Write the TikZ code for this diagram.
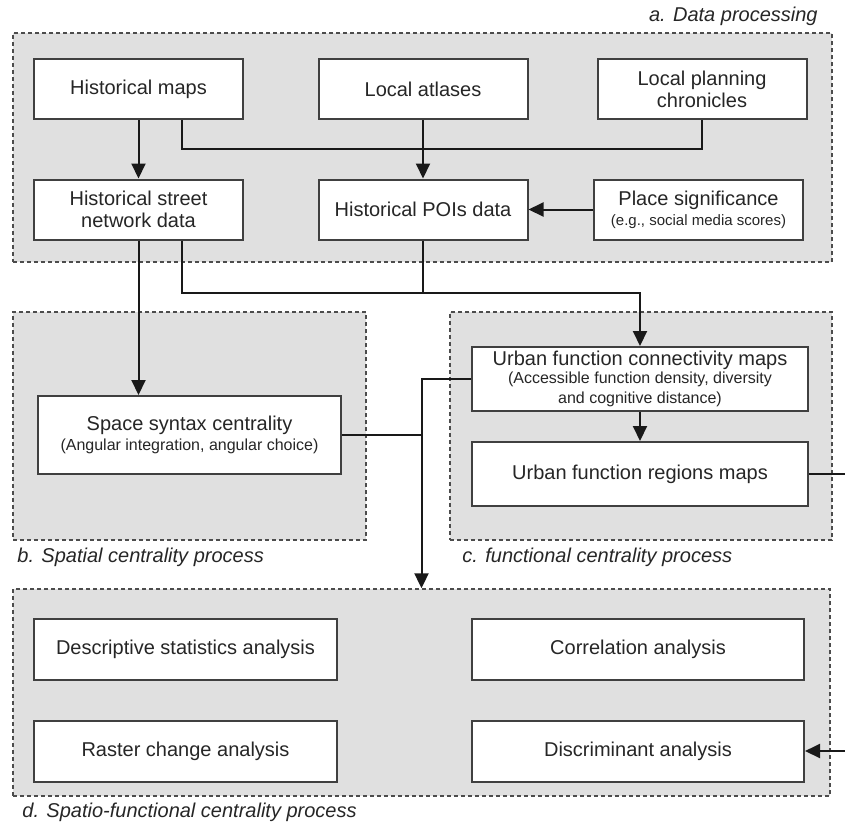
\documentclass[tikz,border=0pt]{standalone}
\usepackage{fontspec}
\setmainfont{Liberation Sans}
\usetikzlibrary{arrows.meta,fit,positioning}
\newcommand{\subtxt}[1]{{\fontsize{8}{9}\selectfont #1}}
\tikzset{
  group/.style={draw=black!70, dash pattern=on 2pt off 1.5pt, line width=0.7pt, fill=black!12, inner sep=0pt},
  grouplabel/.style={font=\itshape\fontsize{10}{12}\selectfont, text=black!85, inner sep=0pt},
  box/.style={draw=black!75, line width=1pt, fill=white, align=center, font=\fontsize{10}{11}\selectfont, text=black!85, inner sep=1pt, minimum width=104.5pt, minimum height=30pt},
  widebox/.style={box, minimum width=151.5pt, minimum height=30.5pt},
  link/.style={line width=1pt, black!90},
  flow/.style={link, -{Triangle[length=7.5pt,width=7pt]}}
}

\begin{document}
\begin{tikzpicture}[x=0.5pt,y=-0.5pt]
  \useasboundingbox (0,0) rectangle (845,825);

  % process groups
  \node[group, fit={(13,33) (832,262)}] (grpA) {};
  \node[group, fit={(13,312) (366,540)}] (grpB) {};
  \node[group, fit={(450,312) (832,540)}] (grpC) {};
  \node[group, fit={(13,589) (830,796)}] (grpD) {};

  \node[grouplabel, anchor=east] (labA) at (818,16) {a. Data processing};
  \node[grouplabel, anchor=west] (labB) at (17,557) {b. Spatial centrality process};
  \node[grouplabel, anchor=west] (labC) at (462,557) {c. functional centrality process};
  \node[grouplabel, anchor=west] (labD) at (22,812) {d. Spatio-functional centrality process};

  % a. data processing
  \node[box] (hmaps) at (138.5,89) {Historical maps};
  \node[box] (atlas) at (423,89) {Local atlases};
  \node[box] (chron) at (702,89) {Local planning\\chronicles};
  \node[box] (street) at (138.5,209.5) {Historical street\\network data};
  \node[box] (pois) at (423,209.5) {Historical POIs data};
  \node[box] (signif) at (698.5,209.5) {Place significance\\[-1pt]{\fontsize{7.5}{9}\selectfont (e.g., social media scores)}};

  % b. and c.
  \node[widebox, minimum height=39pt] (syntax) at (189.5,435)
    {Space syntax centrality\\[-1pt]\subtxt{(Angular integration, angular choice)}};
  \node[box, minimum width=168pt, minimum height=32pt] (conn) at (640,379)
    {Urban function connectivity maps\\[-2pt]\subtxt{(Accessible function density, diversity}\\[-1pt]\subtxt{and cognitive distance)}};
  \node[box, minimum width=168pt, minimum height=32pt] (regions) at (640,474) {Urban function regions maps};

  % d. analyses
  \node[widebox] (descr) at (185.5,649.5) {Descriptive statistics analysis};
  \node[widebox, minimum width=166pt] (corr) at (638,649.5) {Correlation analysis};
  \node[widebox] (raster) at (185.5,751) {Raster change analysis};
  \node[widebox, minimum width=166pt] (discr) at (638,751) {Discriminant analysis};

  \coordinate (jmaps) at (423,149);
  \coordinate (jfunc) at (423,293);
  \coordinate (redge) at (852,474);

  \draw[flow] (hmaps.south) -- (street.north);
  \draw[link] ([xshift=21.5pt]hmaps.south) |- (jmaps) -| (chron.south);
  \draw[flow] (atlas.south) -- (pois.north);
  \draw[flow] (signif.west) -- (pois.east);

  \draw[flow] (street.south) -- (street.south |- syntax.north);
  \draw[flow] ([xshift=21.5pt]street.south) |- (jfunc) -| (conn.north);
  \draw[link] (pois.south) -- (jfunc);

  \draw[flow] (conn.west) -| (grpD.north);
  \draw[link] (syntax.east) -- (syntax.east -| grpD.north);
  \draw[flow] (conn.south) -- (regions.north);
  \draw[flow] (regions.east) -- (redge) |- (discr.east);
\end{tikzpicture}
\end{document}
